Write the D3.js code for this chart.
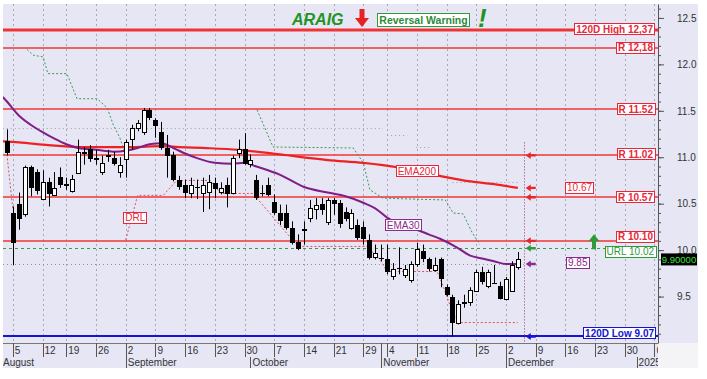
<!DOCTYPE html>
<html>
<head>
<meta charset="utf-8">
<script src="https://cdn.jsdelivr.net/npm/d3@7"></script>
<style>
body { margin: 0; background: #fff; }
text { font-family: Arial, "Liberation Sans", sans-serif; }
</style>
</head>
<body>
<div id="chart"></div>
<script>
// trading calendar
var startDate = "2024-08-02";
var holidays = ["2024-08-15", "2024-10-28"];

// daily candles, Aug 2 .. Dec 4
var openPx = [11.17, 10.40, 10.50, 10.38, 10.89, 10.84, 10.55, 10.73, 10.60, 10.79,
  10.70, 10.64, 10.83, 11.06, 11.09, 10.99, 10.84, 11.02, 10.99, 10.85,
  10.98, 11.20, 11.32, 11.27, 11.51, 11.40, 11.27, 11.10, 11.02, 10.75,
  10.70, 10.61, 10.68, 10.61, 10.62, 10.72, 10.63, 10.70, 10.61, 11.05,
  11.09, 10.93, 10.76, 10.62, 10.70, 10.52, 10.40, 10.40, 10.24, 10.09,
  10.23, 10.34, 10.45, 10.50, 10.30, 10.54, 10.51, 10.41, 10.24, 10.27,
  10.25, 10.11, 9.93, 9.92, 9.90, 9.72, 9.81, 9.74, 9.68, 9.85,
  9.99, 9.90, 9.79, 9.90, 9.60, 9.50, 9.22, 9.43, 9.44, 9.56,
  9.76, 9.61, 9.65, 9.61, 9.47, 9.56, 9.81];
var highPx = [11.30, 10.47, 10.62, 10.91, 10.91, 10.87, 10.86, 10.78, 10.84, 10.89,
  10.78, 10.81, 11.19, 11.11, 11.13, 11.08, 11.02, 11.08, 11.06, 11.00,
  11.19, 11.35, 11.40, 11.53, 11.53, 11.42, 11.38, 11.24, 11.06, 10.80,
  10.76, 10.78, 10.76, 10.78, 10.81, 10.78, 10.73, 10.78, 11.02, 11.19,
  11.26, 11.03, 10.81, 10.70, 10.78, 10.60, 10.49, 10.49, 10.31, 10.17,
  10.31, 10.54, 10.56, 10.56, 10.56, 10.56, 10.54, 10.46, 10.44, 10.33,
  10.31, 10.17, 10.06, 10.06, 10.06, 9.86, 10.03, 9.84, 9.88, 10.08,
  10.06, 9.92, 9.92, 9.92, 9.63, 9.52, 9.46, 9.52, 9.60, 9.79,
  9.82, 9.79, 9.84, 9.66, 9.71, 9.88, 9.98];
var lowPx = [11.02, 9.84, 10.22, 10.36, 10.58, 10.60, 10.54, 10.47, 10.59, 10.67,
  10.65, 10.62, 10.83, 10.92, 10.95, 10.92, 10.81, 10.95, 10.91, 10.78,
  10.78, 11.08, 11.28, 11.24, 11.40, 11.21, 11.08, 10.78, 10.74, 10.65,
  10.56, 10.56, 10.55, 10.41, 10.44, 10.56, 10.60, 10.46, 10.60, 10.99,
  10.92, 10.89, 10.54, 10.58, 10.58, 10.38, 10.27, 10.22, 10.06, 10.00,
  10.06, 10.30, 10.33, 10.38, 10.27, 10.38, 10.24, 10.31, 10.22, 10.11,
  10.06, 9.90, 9.90, 9.88, 9.74, 9.68, 9.74, 9.70, 9.65, 9.82,
  9.87, 9.77, 9.77, 9.60, 9.50, 9.07, 9.20, 9.38, 9.40, 9.55,
  9.63, 9.59, 9.64, 9.47, 9.46, 9.55, 9.79];
var closePx = [11.05, 10.09, 10.35, 10.89, 10.68, 10.65, 10.73, 10.61, 10.67, 10.71,
  10.71, 10.77, 11.06, 11.05, 10.99, 10.98, 10.94, 11.01, 10.94, 10.92,
  11.16, 11.32, 11.37, 11.51, 11.43, 11.35, 11.11, 11.02, 10.76, 10.69,
  10.62, 10.70, 10.68, 10.70, 10.73, 10.67, 10.67, 10.61, 10.99, 11.09,
  10.94, 10.97, 10.58, 10.62, 10.60, 10.41, 10.33, 10.25, 10.09, 10.03,
  10.22, 10.45, 10.49, 10.45, 10.54, 10.51, 10.30, 10.35, 10.40, 10.14,
  10.13, 9.93, 9.97, 9.92, 9.77, 9.80, 9.81, 9.80, 9.85, 10.01,
  9.91, 9.80, 9.84, 9.70, 9.53, 9.23, 9.42, 9.44, 9.57, 9.76,
  9.66, 9.76, 9.65, 9.48, 9.69, 9.84, 9.90];

// moving averages (day index, value)
var ema30Day = [-0.7, 0, 2, 4, 6, 8, 10, 12, 15, 18, 20, 22, 24, 26, 28, 30, 32, 35, 38, 40, 42, 46, 50, 54, 57, 60, 62, 64, 67, 69, 71, 73, 76, 78, 80, 82, 84, 86];
var ema30 = [11.65, 11.60, 11.45, 11.35, 11.27, 11.20, 11.14, 11.10, 11.08, 11.06, 11.07, 11.10, 11.14, 11.15, 11.10, 11.04, 10.99, 10.94, 10.93, 10.94, 10.90, 10.81, 10.68, 10.62, 10.58, 10.51, 10.45, 10.35, 10.26, 10.22, 10.17, 10.12, 10.02, 9.94, 9.91, 9.88, 9.85, 9.85];
var ema200Day = [-0.7, 2, 7, 12, 16, 21, 26, 29, 33, 39, 46, 54, 60, 66, 72, 78, 82, 86];
var ema200 = [11.17, 11.16, 11.13, 11.11, 11.11, 11.11, 11.12, 11.11, 11.10, 11.08, 11.03, 10.97, 10.94, 10.89, 10.81, 10.74, 10.71, 10.67];

// trailing lines (null = gap)
var urlTrailDay = [3.4, 4.4, 6.1, 6.9, 10.1, 11.8, 15.2, 16.9, 17.9, 19.0, 19.7, null, 42.1, 44.8, 58.3, 60, 61.1, 62.3, 63.3, 67.9, 73.8, 75.1, 76.8, 78.3, 79.6];
var urlTrail = [12.16, 12.10, 12.08, 11.90, 11.90, 11.63, 11.63, 11.53, 11.35, 11.21, 11.08, null, 11.51, 11.11, 11.10, 10.94, 10.65, 10.60, 10.56, 10.55, 10.54, 10.40, 10.39, 10.19, 10.06];
var drlDay = [0, 1, null, 20, 22, 26.3, 28.6, 34.2, 36, 41.4, 49, 60.6, 62.8, 64, 72.4, 73.4, 75, 76.3, 86];
var drl = [11.03, 10.44, null, 10.11, 10.59, 10.59, 10.75, 10.75, 10.61, 10.61, 10.04, 10.04, 9.90, 9.77, 9.77, 9.62, 9.33, 9.22, 9.22];
var upperFrom = [-0.7, 64, 68.9, 75];
var upperTo = [63.3, 67.4, 71.2, 86];
var upperVal = [11.32, 11.24, 11.11, 10.73];

// levels
var levelText = ["120D High 12,37", "R 12,18", "R 11.52", "R 11.02", "R 10.57", "R 10.10"];
var levelValue = [12.37, 12.18, 11.52, 11.02, 10.57, 10.10];
var urlText = "URL 10.02", urlValue = 10.02;
var lowText = "120D Low 9.07", lowValue = 9.07;
var ema200Text = "10.67", ema30Text = "9.85";
var lastPriceText = "9.90000";
var yMajor = [9.5, 10.0, 10.5, 11.0, 11.5, 12.0, 12.5];

var W = 707, H = 379;
var pL = 3, pR = 658, pT = 4, pB = 343;

var parse = d3.utcParse("%Y-%m-%d"), fmt = d3.utcFormat("%Y-%m-%d");
var days = [];
var d = parse(startDate);
while (days.length < 112) {
  var wd = d.getUTCDay();
  if (wd > 0 && wd < 6 && holidays.indexOf(fmt(d)) < 0) days.push(d);
  d = d3.utcDay.offset(d, 1);
}

var x = d3.scaleLinear().domain([-0.66, 109.6]).range([pL, pR]);
var y = d3.scaleLinear().domain([9.0, 12.65]).range([pB, pT]);

var svg = d3.select("#chart").append("svg")
  .attr("width", W).attr("height", H);

var defs = svg.append("defs");
defs.append("clipPath").attr("id", "plot")
  .append("rect").attr("x", pL).attr("y", pT).attr("width", pR - pL).attr("height", pB - pT);
defs.append("clipPath").attr("id", "strip")
  .append("rect").attr("x", pL).attr("y", pB).attr("width", pR - pL).attr("height", 26);

// backgrounds
svg.append("rect").attr("x", pL).attr("y", pT).attr("width", 698 - pL).attr("height", pB - pT).attr("fill", "#E6E6F5");
svg.append("rect").attr("x", pL).attr("y", pB).attr("width", pR - pL).attr("height", 25).attr("fill", "#E6E6F5");
svg.append("rect").attr("x", pR).attr("y", pB).attr("width", 40).attr("height", 25).attr("fill", "#F4F4F6");

var plot = svg.append("g").attr("clip-path", "url(#plot)");

// week / month boundaries
var weekStarts = [], monthStarts = [0];
for (var i = 1; i < days.length; i++) {
  if (+d3.utcMonday.floor(days[i]) !== +d3.utcMonday.floor(days[i - 1])) weekStarts.push(i);
  if (days[i].getUTCMonth() !== days[i - 1].getUTCMonth()) monthStarts.push(i);
}

function px(v) { return Math.round(v) + 0.5; }

plot.selectAll(".grid").data(weekStarts).enter().append("line")
  .attr("x1", function (i) { return px(x(i)); }).attr("x2", function (i) { return px(x(i)); })
  .attr("y1", pT).attr("y2", pB)
  .attr("stroke", "#A8A8B4").attr("stroke-dasharray", "2,3");

// level lines
plot.selectAll(".lvl").data(levelValue).enter().append("line")
  .attr("x1", pL).attr("x2", pR)
  .attr("y1", function (v) { return Math.round(y(v)); }).attr("y2", function (v) { return Math.round(y(v)); })
  .attr("stroke", "#F03434").attr("stroke-width", function (v, k) { return k === 0 ? 3 : 1.6; });
plot.append("line").attr("x1", pL).attr("x2", pR)
  .attr("y1", Math.round(y(lowValue))).attr("y2", Math.round(y(lowValue)))
  .attr("stroke", "#1414D2").attr("stroke-width", 2);
plot.append("line").attr("x1", pL).attr("x2", 606)
  .attr("y1", px(y(urlValue))).attr("y2", px(y(urlValue)))
  .attr("stroke", "#3A9A4A").attr("stroke-dasharray", "3,3");
plot.append("line").attr("x1", pL).attr("x2", x(87))
  .attr("y1", px(y(9.85))).attr("y2", px(y(9.85)))
  .attr("stroke", "#9090A0").attr("stroke-dasharray", "1,3");

// upper dotted steps
plot.selectAll(".upper").data(upperVal).enter().append("line")
  .attr("x1", function (v, k) { return x(upperFrom[k]); })
  .attr("x2", function (v, k) { return x(upperTo[k]); })
  .attr("y1", function (v) { return px(y(v)); }).attr("y2", function (v) { return px(y(v)); })
  .attr("stroke", "#9C9CA8").attr("stroke-dasharray", "1,3");

function pathOf(dayIdx, vals, curve) {
  var pts = dayIdx.map(function (dd, k) { return [dd, vals[k]]; });
  return d3.line()
    .defined(function (p) { return p[0] !== null; })
    .x(function (p) { return x(p[0]); })
    .y(function (p) { return y(p[1]); })
    .curve(curve || d3.curveLinear)(pts);
}

plot.append("path").attr("d", pathOf(urlTrailDay, urlTrail))
  .attr("fill", "none").attr("stroke", "#3C9A50").attr("stroke-dasharray", "2,2");
plot.append("path").attr("d", pathOf(drlDay, drl))
  .attr("fill", "none").attr("stroke", "#E0505A").attr("stroke-dasharray", "2,2");

plot.append("path").attr("d", pathOf(ema200Day, ema200, d3.curveMonotoneX))
  .attr("fill", "none").attr("stroke", "#EE2222").attr("stroke-width", 2.2);
plot.append("path").attr("d", pathOf(ema30Day, ema30, d3.curveMonotoneX))
  .attr("fill", "none").attr("stroke", "#7E1E86").attr("stroke-width", 2);

// candles
var candles = plot.selectAll(".candle").data(openPx).enter().append("g");
candles.append("line")
  .attr("x1", function (o, i) { return px(x(i)); }).attr("x2", function (o, i) { return px(x(i)); })
  .attr("y1", function (o, i) { return y(highPx[i]); }).attr("y2", function (o, i) { return y(lowPx[i]); })
  .attr("stroke", "#000");
candles.append("rect")
  .attr("x", function (o, i) { return px(x(i)) - 2; })
  .attr("y", function (o, i) { return Math.round(y(Math.max(o, closePx[i]))) + 0.5; })
  .attr("width", 4)
  .attr("height", function (o, i) { return Math.max(0.01, Math.round(Math.abs(y(o) - y(closePx[i])))); })
  .attr("fill", function (o, i) { return closePx[i] >= o ? "#fff" : "#000"; })
  .attr("stroke", "#000");

// current day marker line
svg.append("line").attr("x1", px(x(87))).attr("x2", px(x(87)))
  .attr("y1", y(11.16)).attr("y2", pB)
  .attr("stroke", "#A0305A").attr("stroke-dasharray", "1,2");

// arrows at the current day
var arrowVals = [11.02, 10.67, 10.57, 10.10, urlValue, 9.85, lowValue];
var arrowCols = ["#E82828", "#E82828", "#E82828", "#E82828", "#2E9A3A", "#8A2A8A", "#1414D2"];
svg.selectAll(".arr").data(arrowVals).enter().append("path")
  .attr("transform", function (v) { return "translate(" + (x(87) + 2) + "," + y(v) + ")"; })
  .attr("d", "M0,0L5,-3.5L5,-1.2L10,-1.2L10,1.2L5,1.2L5,3.5Z")
  .attr("fill", function (v, k) { return arrowCols[k]; });

// boxed labels
function tag(txt, tx, yc, anchor, color, bold, size) {
  var g = svg.append("g");
  var t = g.append("text").attr("x", tx).attr("y", yc + 3.6)
    .attr("text-anchor", anchor).attr("font-size", size || 10)
    .attr("font-weight", bold ? "bold" : "normal").attr("fill", color).text(txt);
  var b = t.node().getBBox();
  g.insert("rect", "text").attr("x", Math.round(b.x) - 1.5).attr("y", Math.round(yc) - 5.5)
    .attr("width", Math.round(b.width) + 3).attr("height", 11)
    .attr("fill", "#fff").attr("stroke", color);
  return g;
}

var levelShift = [-1, 0, 0, -1, 0, -4];
levelText.forEach(function (t, k) {
  tag(t, 653, y(levelValue[k]) + levelShift[k], "end", "#E8283A", true);
});
tag(urlText, 654, y(urlValue) + 3.5, "end", "#2E9A3A", false);
tag(lowText, 654, y(lowValue) - 3, "end", "#1414D2", true);
tag(ema200Text, 567, y(10.67), "start", "#E8283A", false);
tag(ema30Text, 568, y(9.85) - 1.5, "start", "#8A2A8A", false);
tag("EMA200", x(69), y(10.85), "middle", "#E8283A", false);
tag("EMA30", x(66.7), y(10.27), "middle", "#8A2A8A", false);
tag("DRL", x(21.6), y(10.35), "middle", "#E8283A", false);

// green up arrow
svg.append("path").attr("transform", "translate(594," + (y(urlValue) - 14) + ")")
  .attr("d", "M0,0L5.5,7L2,7L2,15L-2,15L-2,7L-5.5,7Z").attr("fill", "#2E9A3A");

// title
svg.append("text").attr("x", 292).attr("y", 25).attr("font-size", 16)
  .attr("font-weight", "bold").attr("font-style", "italic").attr("fill", "#1E951E").text("ARAIG");
svg.append("path").attr("transform", "translate(362,9)")
  .attr("d", "M-2.5,0L2.5,0L2.5,9L7,9L0,18L-7,9L-2.5,9Z").attr("fill", "#E82020");
var rw = svg.append("g");
rw.append("rect").attr("x", 377.5).attr("y", 13.5).attr("width", 92).attr("height", 13)
  .attr("fill", "#fff").attr("stroke", "#2E9A3A");
rw.append("text").attr("x", 423.5).attr("y", 24).attr("text-anchor", "middle")
  .attr("font-size", 10.5).attr("font-weight", "bold").attr("fill", "#2E8B3A").text("Reversal Warning");
svg.append("text").attr("x", 478).attr("y", 27).attr("font-size", 26)
  .attr("font-weight", "bold").attr("font-style", "italic").attr("fill", "#1E951E").text("!");

// y axis
var minor = d3.range(91, 127).map(function (v) { return v / 10; });
svg.append("g").attr("transform", "translate(" + pR + ",0)")
  .call(d3.axisRight(y).tickValues(minor).tickSize(3).tickSizeOuter(0).tickFormat(""))
  .call(function (g) { g.selectAll("line,path").attr("stroke", "#555"); });
var ya = svg.append("g").attr("transform", "translate(" + pR + ",0)")
  .call(d3.axisRight(y).tickValues(yMajor).tickSize(6).tickSizeOuter(0).tickPadding(13).tickFormat(d3.format(".1f")));
ya.select(".domain").remove();
ya.selectAll("line").attr("stroke", "#555");
ya.selectAll("text").attr("font-size", 10).attr("fill", "#333")
  .attr("font-family", "Arial, 'Liberation Sans', sans-serif");

// last price tag
svg.append("rect").attr("x", 661).attr("y", y(9.9) - 6).attr("width", 36).attr("height", 12).attr("fill", "#000");
svg.append("text").attr("x", 679).attr("y", y(9.9) + 3.5).attr("text-anchor", "middle")
  .attr("font-size", 9.5).attr("fill", "#3CE03C").text(lastPriceText);

// x axis strip
var strip = svg.append("g").attr("clip-path", "url(#strip)");
strip.append("line").attr("x1", pL).attr("x2", pR).attr("y1", pB + 0.5).attr("y2", pB + 0.5).attr("stroke", "#777");
strip.selectAll(".wk").data(weekStarts).enter().append("line")
  .attr("x1", function (i) { return px(x(i)); }).attr("x2", function (i) { return px(x(i)); })
  .attr("y1", pB).attr("y2", pB + 14).attr("stroke", "#555");
strip.selectAll(".wkt").data(weekStarts).enter().append("text")
  .attr("x", function (i) { return x(i) + 2; }).attr("y", pB + 11)
  .attr("font-size", 10).attr("fill", "#333")
  .text(function (i) { return days[i].getUTCDate(); });
var mFmt = d3.utcFormat("%B");
strip.selectAll(".mo").data(monthStarts.slice(1)).enter().append("line")
  .attr("x1", function (i) { return px(x(i)); }).attr("x2", function (i) { return px(x(i)); })
  .attr("y1", function (i) {
    var prev = weekStarts.filter(function (w) { return w <= i; }).pop();
    return (x(i) - x(prev) > 14) ? pB : pB + 14;
  })
  .attr("y2", pB + 25).attr("stroke", "#555");
strip.selectAll(".mot").data(monthStarts).enter().append("text")
  .attr("x", function (i) { return i === 0 ? pL : x(i) + 2; }).attr("y", pB + 23)
  .attr("font-size", 10).attr("fill", "#333")
  .text(function (i) { return days[i].getUTCMonth() === 0 ? days[i].getUTCFullYear() : mFmt(days[i]); });
</script>
</body>
</html>
